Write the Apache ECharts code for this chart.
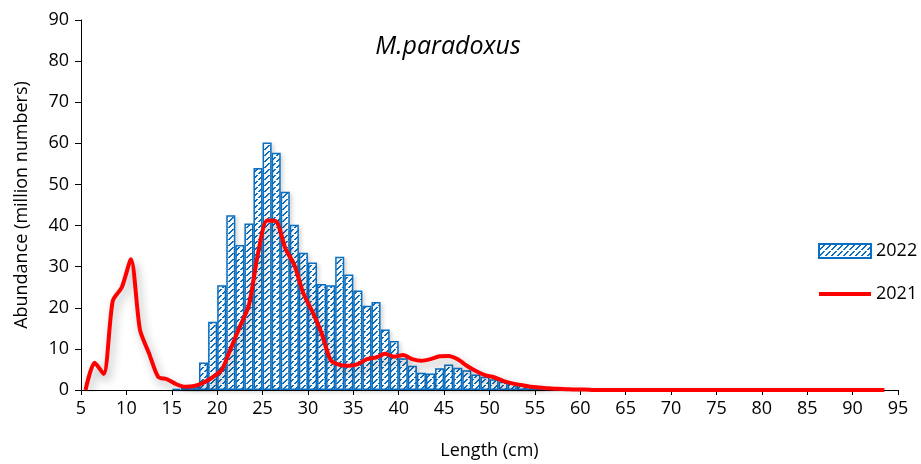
<!DOCTYPE html>
<html>
<head>
<meta charset="utf-8">
<script src="https://cdn.jsdelivr.net/npm/echarts@6/dist/echarts.min.js"></script>
<style>
html,body{margin:0;padding:0;background:#fff;}
#chart{width:921px;height:464px;}
</style>
</head>
<body>
<div id="chart"></div>
<script>
// Length classes (cm) for 2022 bars and abundance (million numbers)
var lengths2022 = [15,16,17,18,19,20,21,22,23,24,25,26,27,28,29,30,31,32,33,34,35,36,37,38,39,40,41,42,43,44,45,46,47,48,49,50,51,52,53,54,55,56,57,58,59,60];
var values2022 = [0.3,0.5,0.8,6.7,16.6,25.5,42.5,35.3,40.5,54.0,60.2,57.7,48.2,40.2,33.4,31.0,25.8,25.5,32.4,28.1,24.2,20.5,21.4,14.7,11.9,7.7,5.9,4.2,4.0,5.3,6.2,5.4,4.8,3.8,3.2,2.6,2.0,1.6,1.4,1.0,0.6,0.4,0.3,0.2,0.1,0.1];

// Length classes (cm) for 2021 line
var lengths2021 = [5,6,7,8,9,10,11,12,13,14,15,16,17,18,19,20,21,22,23,24,25,26,27,28,29,30,31,32,33,34,35,36,37,38,39,40,41,42,43,44,45,46,47,48,49,50,51,52,53,54,55,56,57,58,59,60,61,62,63,64,65,66,67,68,69,70,71,72,73,74,75,76,77,78,79,80,81,82,83,84,85,86,87,88,89,90,91,92,93];
var values2021 = [0,6.6,3.9,21.7,25.0,31.8,14.6,8.9,3.2,2.6,1.4,0.8,1.0,1.8,3.1,4.9,10.1,15.4,20.7,33.2,41.2,41.0,34.5,30.4,23.5,19.0,13.8,7.3,6.1,5.9,6.3,7.5,7.9,8.8,8.1,8.5,7.5,7.1,7.5,8.2,8.3,7.5,5.9,4.6,3.6,3.1,2.2,1.6,1.2,0.8,0.6,0.4,0.3,0.2,0.1,0.1,0,0,0,0,0,0,0,0,0,0,0,0,0,0,0,0,0,0,0,0,0,0,0,0,0,0,0,0,0,0,0,0,0];

var xTickMin = 5, xTickMax = 95, xTickStep = 5;
var yTickMin = 0, yTickMax = 90, yTickStep = 10;

var titleText = 'M.paradoxus';
var xName = 'Length (cm)';
var yName = 'Abundance (million numbers)';
var seriesNames = ['2022', '2021'];

var BLUE = '#0a6fc2';

// Hatch pattern (dashed upward diagonal)
function makeHatch() {
  var c = document.createElement('canvas');
  c.width = 6; c.height = 6;
  var g = c.getContext('2d');
  g.fillStyle = '#ffffff';
  g.fillRect(0, 0, 6, 6);
  g.fillStyle = BLUE;
  for (var i = 0; i < 6; i++) {
    if (i === 5) continue;
    var y = 5 - i;
    g.fillRect(i, y, 1, 1);
    g.fillRect((i + 1) % 6, y, 1, 1);
  }
  return c;
}

var chart = echarts.init(document.getElementById('chart'), null, {renderer: 'canvas'});
var FONT = 'Open Sans';
var gridLeft = 81, gridRight = 23, gridTop = 20, gridBottom = 74;
var plotW = 921 - gridLeft - gridRight;
var unitPx = plotW / (xTickMax - xTickMin);

var barData = lengths2022.map(function (l, i) { return [l + 0.5, values2022[i]]; });
var lineData = lengths2021.map(function (l, i) { return [l + 0.5, values2021[i]]; });

var hatch = makeHatch();

chart.setOption({
  animation: false,
  backgroundColor: '#ffffff',
  textStyle: {fontFamily: FONT},
  title: {
    text: titleText,
    left: 443, top: 29, textAlign: 'center',
    textStyle: {fontFamily: FONT, fontStyle: 'italic', fontWeight: 'normal', fontSize: 25, color: '#000'}
  },
  legend: {
    orient: 'vertical',
    left: 812, top: 237,
    itemWidth: 52, itemHeight: 14, itemGap: 25,
    textStyle: {fontFamily: FONT, fontSize: 18, color: '#000'},
    data: [
      {name: seriesNames[0], icon: 'rect'},
      {name: seriesNames[1], itemStyle: {opacity: 0}, lineStyle: {width: 4, color: '#ff0000'}}
    ]
  },
  grid: {left: gridLeft, right: gridRight, top: gridTop, bottom: gridBottom, containLabel: false, outerBoundsMode: 'none'},
  xAxis: {
    type: 'value',
    min: xTickMin, max: xTickMax, interval: xTickStep,
    name: xName, nameLocation: 'middle', nameGap: 52,
    nameTextStyle: {fontFamily: FONT, fontSize: 18, color: '#000'},
    axisLine: {onZero: false, lineStyle: {color: '#000', width: 1}},
    axisTick: {show: true, length: 5, lineStyle: {color: '#000'}},
    axisLabel: {fontFamily: FONT, fontSize: 18, color: '#000', margin: 10},
    splitLine: {show: false}
  },
  yAxis: {
    type: 'value',
    min: yTickMin, max: yTickMax, interval: yTickStep,
    name: yName, nameLocation: 'middle', nameGap: 50,
    nameTextStyle: {fontFamily: FONT, fontSize: 18, color: '#000'},
    axisLine: {show: true, lineStyle: {color: '#000', width: 1}},
    axisTick: {show: true, length: 6, lineStyle: {color: '#000'}},
    axisLabel: {fontFamily: FONT, fontSize: 18, color: '#000', margin: 12},
    splitLine: {show: false}
  },
  series: [
    {
      name: seriesNames[0],
      type: 'bar',
      data: barData,
      barWidth: unitPx,
      barGap: '0%',
      itemStyle: {
        color: {image: hatch, repeat: 'repeat'},
        borderColor: BLUE,
        borderWidth: 1.5,
        shadowColor: 'rgba(0,0,0,0.15)',
        shadowBlur: 4,
        shadowOffsetX: 2,
        shadowOffsetY: 2
      },
      z: 2
    },
    {
      name: seriesNames[1],
      type: 'line',
      data: lineData,
      smooth: 0.25,
      symbol: 'none',
      lineStyle: {
        color: '#ff0000', width: 4,
        shadowColor: 'rgba(0,0,0,0.3)', shadowBlur: 10, shadowOffsetX: 3, shadowOffsetY: 5
      },
      itemStyle: {color: '#ff0000'},
      z: 3
    }
  ]
});
</script>
</body>
</html>
